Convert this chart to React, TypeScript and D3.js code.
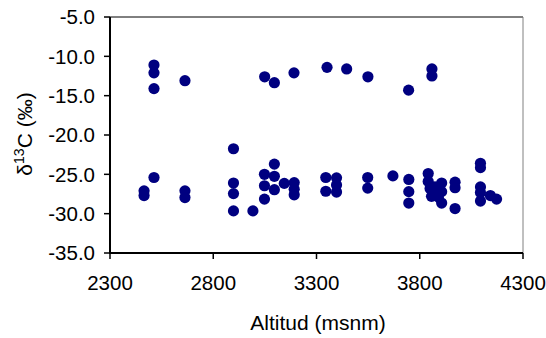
import React from "react";
import * as d3 from "d3";

const altitude: number[] = [
  2513, 2513, 2513, 2663, 3049, 3096, 3191, 3351, 3446, 3549, 3746, 3859, 3859,
  2465, 2465, 2513, 2663, 2663,
  2898, 2898, 2898, 2898, 2992,
  3048, 3048, 3048,
  3096, 3096, 3096,
  3144,
  3192, 3192, 3192,
  3345, 3345,
  3397, 3397, 3397,
  3548, 3548,
  3670,
  3747, 3747, 3747,
  3841, 3841, 3850, 3857, 3874, 3874, 3906, 3906, 3906, 3890,
  3971, 3971, 3971,
  4094, 4094, 4094, 4094, 4094,
  4142, 4172,
];
const delta13C: number[] = [
  -11.1, -12.1, -14.1, -13.1, -12.6, -13.35, -12.1, -11.4, -11.6, -12.6, -14.3, -11.6, -12.5,
  -27.1, -27.7, -25.4, -27.1, -27.95,
  -21.75, -26.1, -27.45, -29.65, -29.65,
  -25.0, -26.45, -28.15,
  -23.7, -25.25, -26.95,
  -26.15,
  -26.05, -26.9, -27.6,
  -25.4, -27.15,
  -25.45, -26.35, -27.25,
  -25.4, -26.75,
  -25.2,
  -25.65, -27.2, -28.65,
  -24.9, -25.9, -26.8, -27.8, -26.6, -27.3, -26.1, -27.2, -28.65, -27.9,
  -26.0, -26.7, -29.35,
  -23.6, -24.15, -26.6, -27.3, -28.4,
  -27.7, -28.15,
];
const xTicks: number[] = [2300, 2800, 3300, 3800, 4300];
const yTicks: number[] = [-5, -10, -15, -20, -25, -30, -35];

export default function App() {
  const W = 546, H = 338;
  const left = 110, right = 523, top = 17, bottom = 253;
  const x = d3.scaleLinear().domain([2300, 4300]).range([left, right]);
  const y = d3.scaleLinear().domain([-35, -5]).range([bottom, top]);
  const font = "'Liberation Sans', Arial, sans-serif";
  const fs = 20.5;
  return (
    <svg width={W} height={H} style={{ position: "absolute", left: 0, top: 0, background: "#fff" }}>
      <rect x={0} y={0} width={W} height={H} fill="#fff" />
      {/* frame */}
      <line x1={left} x2={right} y1={top} y2={top} stroke="#000" strokeWidth={1} />
      <line x1={right} x2={right} y1={top} y2={bottom} stroke="#808080" strokeWidth={1} />
      {/* points */}
      {altitude.map((a, i) => (
        <circle key={i} cx={x(a)} cy={y(delta13C[i])} r={5.6} fill="#000080" />
      ))}
      {/* axes */}
      <line x1={left} x2={left} y1={top} y2={bottom} stroke="#000" strokeWidth={2} />
      <line x1={left - 1} x2={right} y1={bottom} y2={bottom} stroke="#000" strokeWidth={2} />
      {yTicks.map((t) => (
        <g key={t}>
          <line x1={left - 6} x2={left} y1={y(t)} y2={y(t)} stroke="#000" strokeWidth={1.5} />
          <text x={95} y={y(t)} dy="0.36em" textAnchor="end" fontFamily={font} fontSize={fs} fill="#000">
            {d3.format(".1f")(t).replace("−", "-")}
          </text>
        </g>
      ))}
      {xTicks.map((t) => (
        <g key={t}>
          <line x1={x(t)} x2={x(t)} y1={bottom} y2={bottom + 6} stroke="#000" strokeWidth={1.5} />
          <text x={x(t)} y={290} textAnchor="middle" fontFamily={font} fontSize={fs} fill="#000">
            {t}
          </text>
        </g>
      ))}
      <text x={318} y={330} textAnchor="middle" fontFamily={font} fontSize={21} fill="#000">
        Altitud (msnm)
      </text>
      <text
        transform={`translate(32, 134) rotate(-90)`}
        textAnchor="middle"
        fontFamily={font}
        fontSize={21}
        fill="#000"
      >
        δ<tspan dy={-8} fontSize={14}>13</tspan>
        <tspan dy={8}>C (‰)</tspan>
      </text>
    </svg>
  );
}
